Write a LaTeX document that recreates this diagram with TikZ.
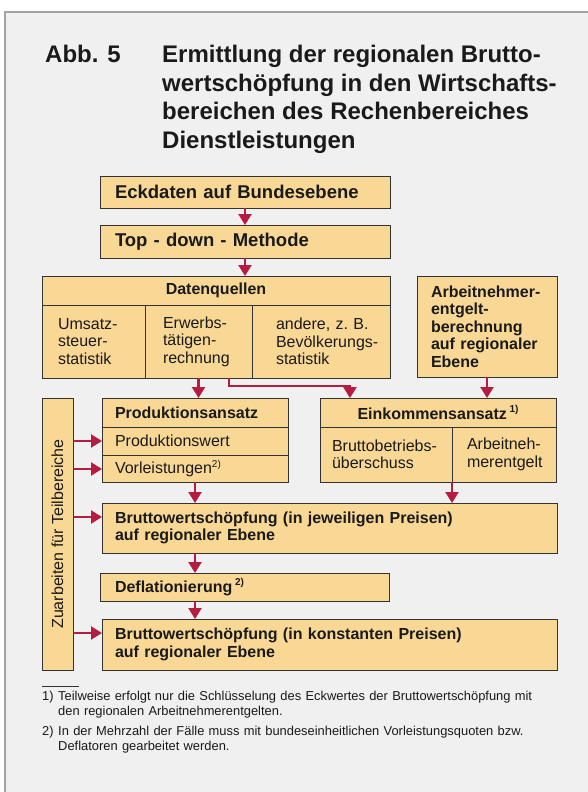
\documentclass[tikz,border=0pt]{standalone}
\usepackage{fontspec}
\setmainfont{Liberation Sans}
\usepackage{graphicx}
\usepackage{tikz}
\usetikzlibrary{
	arrows.meta,
	calc,
}
\definecolor{panel}{HTML}{F0F0F0}
\definecolor{panelrand}{HTML}{A3A3A3}
\definecolor{gelb}{HTML}{F9D896}
\definecolor{rahmen}{HTML}{333333}
\definecolor{rot}{HTML}{B51C42}
\definecolor{schrift}{HTML}{1A1A1A}
\newcommand\gr[2]{\fontsize{#1}{#2}\selectfont}
\newcommand\hochz[1]{\raisebox{0.42em}{\gr{10}{10}#1}}
\tikzset{
	kasten/.style={draw=rahmen, fill=gelb, line width=0.9pt, anchor=north west, outer sep=0pt, inner ysep=0pt, align=left, text=schrift, font=\gr{16}{17.5}},
	fett/.style={font=\gr{16}{17.5}\bfseries},
	gross/.style={font=\gr{18.5}{20}\bfseries},
	fussnote/.style={anchor=north west, inner sep=0pt, align=left, text=schrift, font=\gr{12.9}{15}},
	pfeil/.style={draw=rot, line width=2.3pt, -{Triangle[width=13pt,length=11pt]}},
}

\begin{document}
\begin{tikzpicture}[x=1pt, y=-1pt]
				\useasboundingbox (0,0) rectangle (587,792);
				\fill[white] (0,0) rectangle (587,792);
				\filldraw[fill=panel, draw=panelrand, line width=2.5pt] (5,12) rectangle (600,805);
				\node[anchor=north west, inner sep=0pt, font=\gr{24}{28.7}\bfseries, text=schrift] (abb) at (45,45) {Abb. 5};
				\node[anchor=north west, inner sep=0pt, align=left, font=\gr{24}{28.7}\bfseries, text=schrift] (titel) at (162,45) {Ermittlung der regionalen Brutto-\\wertschöpfung in den Wirtschafts-\\bereichen des Rechenbereiches\\Dienstleistungen};
				\node[kasten, gross, inner xsep=15pt, text width=260pt, minimum height=32pt] (eck) at (100,176) {Eckdaten auf Bundesebene};
				\node[kasten, gross, inner xsep=15pt, text width=260pt, minimum height=33pt] (top) at (100,225) {Top - down - Methode};
				\node[kasten, fett, minimum width=348pt, minimum height=29pt] (dq) at (42,276) {Datenquellen};
				\node[kasten, inner xsep=16pt, text width=71pt, minimum height=73pt] (c1) at (42,305) {Umsatz-\\steuer-\\statistik};
				\node[kasten, inner xsep=18pt, text width=71pt, minimum height=73pt] (c2) at (145,305) {Erwerbs-\\tätigen-\\rechnung};
				\node[kasten, inner xsep=0pt, text width=138pt, minimum height=73pt] (c3) at (252,305) {\hspace*{24pt}andere, z.~B.\\\hspace*{24pt}Bevölkerungs-\\\hspace*{24pt}statistik};
				\node[kasten, fett, inner xsep=14pt, text width=112pt, minimum height=101pt] (anr) at (417,276) {Arbeitnehmer-\\entgelt-\\berechnung\\auf regionaler\\Ebene};
				\node[kasten, minimum width=31pt, minimum height=272pt, inner sep=0pt] (zu) at (42,398) {\rotatebox{90}{Zuarbeiten für Teilbereiche}};
				\node[kasten, fett, inner xsep=13pt, text width=160pt, minimum height=29pt] (pa) at (102,398) {Produktionsansatz};
				\node[kasten, inner xsep=13pt, text width=160pt, minimum height=28pt] (pw) at (102,427) {Produktionswert};
				\node[kasten, inner xsep=13pt, text width=160pt, minimum height=27pt] (vl) at (102,455) {Vorleistungen\hochz{2)}};
				\node[kasten, fett, minimum width=236pt, minimum height=29pt] (ea) at (320,398) {Einkommensansatz\,\hochz{1)}};
				\node[kasten, inner xsep=12pt, text width=108pt, minimum height=55pt] (bb) at (320,427) {Bruttobetriebs-\\überschuss};
				\node[kasten, inner xsep=15pt, text width=74pt, minimum height=55pt] (ae) at (452,427) {Arbeitneh-\\merentgelt};
				\node[kasten, fett, inner xsep=13pt, text width=429pt, minimum height=50pt] (bj) at (102,503) {Bruttowertschöpfung (in jeweiligen Preisen)\\auf regionaler Ebene};
				\node[kasten, fett, inner xsep=15pt, text width=259pt, minimum height=28pt] (de) at (100,573) {Deflationierung\,\hochz{2)}};
				\node[kasten, fett, inner xsep=13pt, text width=429pt, minimum height=51pt] (bk) at (102,619) {Bruttowertschöpfung (in konstanten Preisen)\\auf regionaler Ebene};
				\draw[pfeil] (eck) -- (top);
				\draw[pfeil] (top.south) -- (top.south |- dq.north);
				\draw[pfeil] (c2.south) -- (c2.south |- pa.north);
				\coordinate (knick) at (350,386);
				\draw[pfeil] ([xshift=30.5pt]c2.south) |- (knick) -- (knick |- ea.north);
				\draw[pfeil] (anr.south) -- (anr.south |- ea.north);
				\draw[pfeil] (vl.south) -- (vl.south |- bj.north);
				\draw[pfeil] (bb.south east) -- (bb.south east |- bj.north);
				\draw[pfeil] (bj.south -| vl.south) -- (de.north -| vl.south);
				\draw[pfeil] (de.south -| vl.south) -- (bk.north -| vl.south);
				\foreach \ziel in {pw, vl, bj, bk}
					\draw[pfeil] ($(zu.east |- \ziel.north)+(0,14)$) -- ($(\ziel.north west)+(0,14)$);
				\draw[rahmen, line width=0.8pt] (42,686) -- (79,686);
				\node[fussnote] (n1) at (42,690.6) {1)};
				\node[fussnote, text width=525pt] (f1) at (58,690.6) {Teilweise erfolgt nur die Schlüsselung des Eckwertes der Bruttowertschöpfung mit\\den regionalen Arbeitnehmerentgelten.};
				\node[fussnote] (n2) at (42,725.6) {2)};
				\node[fussnote, text width=525pt] (f2) at (58,725.6) {In der Mehrzahl der Fälle muss mit bundeseinheitlichen Vorleistungsquoten bzw.\\Deflatoren gearbeitet werden.};
			\end{tikzpicture}
\end{document}
